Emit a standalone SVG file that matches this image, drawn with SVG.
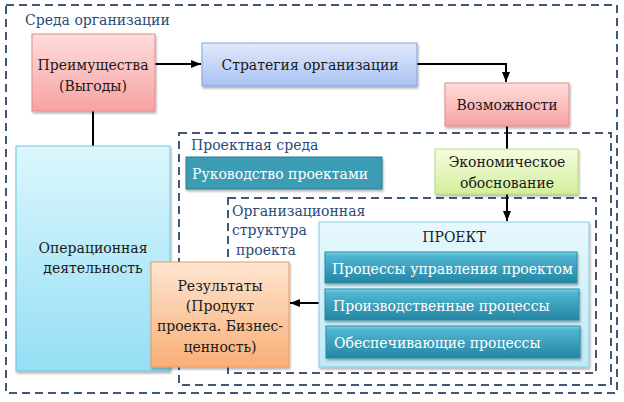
<svg xmlns="http://www.w3.org/2000/svg" width="624" height="402" viewBox="0 0 624 402">
<defs>
<linearGradient id="gPink" x1="0" y1="0" x2="0" y2="1"><stop offset="0" stop-color="#ffdcdc"/><stop offset="1" stop-color="#f7a3a3"/></linearGradient>
<linearGradient id="gBlue" x1="0" y1="0" x2="0" y2="1"><stop offset="0" stop-color="#e2eafc"/><stop offset="1" stop-color="#a9c2f3"/></linearGradient>
<linearGradient id="gGreen" x1="0" y1="0" x2="0" y2="1"><stop offset="0" stop-color="#f6fce0"/><stop offset="1" stop-color="#d3ee9c"/></linearGradient>
<linearGradient id="gCyan" x1="0" y1="0" x2="0" y2="1"><stop offset="0" stop-color="#dcf7fd"/><stop offset="1" stop-color="#95def4"/></linearGradient>
<linearGradient id="gProj" x1="0" y1="0" x2="0" y2="1"><stop offset="0" stop-color="#e6f8fd"/><stop offset="1" stop-color="#bfeaf7"/></linearGradient>
<linearGradient id="gOrange" x1="0" y1="0" x2="0" y2="1"><stop offset="0" stop-color="#fee6d2"/><stop offset="1" stop-color="#f9ae76"/></linearGradient>
<linearGradient id="gTeal" x1="0" y1="0" x2="0" y2="1"><stop offset="0" stop-color="#7fd3e6"/><stop offset="0.12" stop-color="#4fb6d0"/><stop offset="1" stop-color="#2585a4"/></linearGradient>
<filter id="sh" x="-10%" y="-10%" width="130%" height="140%"><feDropShadow dx="1" dy="2" stdDeviation="1.2" flood-color="#000" flood-opacity="0.3"/></filter>
<marker id="arr" viewBox="0 0 10 10" refX="10" refY="5" markerWidth="5" markerHeight="5" orient="auto-start-reverse"><path d="M0,1 L10,5 L0,9 z" fill="#000"/></marker>
</defs>
<style>
.dash{fill:none;stroke:#3f5878;stroke-width:2;stroke-dasharray:8,5}
.lbl{font-family:"DejaVu Serif",serif;font-size:14px;fill:#2b4a78}
.t{font-family:"DejaVu Serif",serif;font-size:14px;fill:#1a1a1a;text-anchor:middle}
.w{font-family:"DejaVu Serif",serif;font-size:14px;fill:#ffffff}
.con{fill:none;stroke:#000;stroke-width:2}
</style>
<rect width="624" height="402" fill="#ffffff"/>
<g id="areas">
<rect class="dash" x="6" y="5" width="611" height="388"/>
<text class="lbl" x="25" y="25">Среда организации</text>
<rect class="dash" x="179" y="133" width="432" height="252"/>
<text class="lbl" x="191" y="150">Проектная среда</text>
<rect class="dash" x="228" y="198" width="368" height="175"/>
<text class="lbl" x="232" y="216">Организационная</text>
<text class="lbl" x="232" y="235">структура</text>
<text class="lbl" x="236" y="255">проекта</text>
</g>
<g id="connectors">
<line class="con" x1="93" y1="111" x2="93" y2="146"/>
<line class="con" x1="155" y1="64" x2="201" y2="64" marker-end="url(#arr)"/>
<polyline class="con" points="417,64 506,64 506,82" marker-end="url(#arr)"/>
<line class="con" x1="507" y1="126" x2="507" y2="149"/>
<line class="con" x1="507" y1="194" x2="507" y2="221" marker-end="url(#arr)"/>
<line class="con" x1="319" y1="303" x2="290" y2="303" marker-end="url(#arr)"/>
</g>
<g id="n-preim">
<rect x="32" y="34" width="123" height="77" fill="url(#gPink)" stroke="#e28c8c" filter="url(#sh)"/>
<text class="t" x="93" y="70">Преимущества</text>
<text class="t" x="93" y="91">(Выгоды)</text>
</g>
<g id="n-strat">
<rect x="202" y="43" width="215" height="43" fill="url(#gBlue)" stroke="#84a2dc" filter="url(#sh)"/>
<text class="t" x="310" y="70">Стратегия организации</text>
</g>
<g id="n-vozm">
<rect x="445" y="83" width="124" height="43" fill="url(#gPink)" stroke="#e28c8c" filter="url(#sh)"/>
<text class="t" x="507" y="110">Возможности</text>
</g>
<g id="n-econ">
<rect x="435" y="149" width="143" height="45" fill="url(#gGreen)" stroke="#bcd97a" filter="url(#sh)"/>
<text class="t" x="507" y="167">Экономическое</text>
<text class="t" x="507" y="188">обоснование</text>
</g>
<g id="n-ruk">
<rect x="186" y="157" width="196" height="32" fill="#3b9cb3" stroke="#2a7d93" filter="url(#sh)"/>
<text class="w" x="192" y="179">Руководство проектами</text>
</g>
<g id="n-oper">
<rect x="16" y="146" width="154" height="225" fill="url(#gCyan)" stroke="#74c3da" filter="url(#sh)"/>
<text class="t" x="93" y="253">Операционная</text>
<text class="t" x="93" y="273">деятельность</text>
</g>
<g id="n-proj">
<rect x="319" y="222" width="270" height="145" fill="url(#gProj)" stroke="#84cbe2" filter="url(#sh)"/>
<text class="t" x="454" y="242">ПРОЕКТ</text>
</g>
<g id="n-p1">
<rect x="325" y="252" width="252" height="31" fill="url(#gTeal)" stroke="#2a8aa6" filter="url(#sh)"/>
<text class="w" x="332" y="274">Процессы управления проектом</text>
</g>
<g id="n-p2">
<rect x="325" y="289" width="254" height="31" fill="url(#gTeal)" stroke="#2a8aa6" filter="url(#sh)"/>
<text class="w" x="333" y="311">Производственные процессы</text>
</g>
<g id="n-p3">
<rect x="326" y="326" width="254" height="32" fill="url(#gTeal)" stroke="#2a8aa6" filter="url(#sh)"/>
<text class="w" x="334" y="348">Обеспечивающие процессы</text>
</g>
<g id="n-res">
<rect x="151" y="262" width="138" height="105" fill="url(#gOrange)" stroke="#e89b5e" filter="url(#sh)"/>
<text class="t" x="220" y="291">Результаты</text>
<text class="t" x="220" y="311">(Продукт</text>
<text class="t" x="220" y="331">проекта. Бизнес-</text>
<text class="t" x="220" y="352">ценность)</text>
</g>
</svg>
